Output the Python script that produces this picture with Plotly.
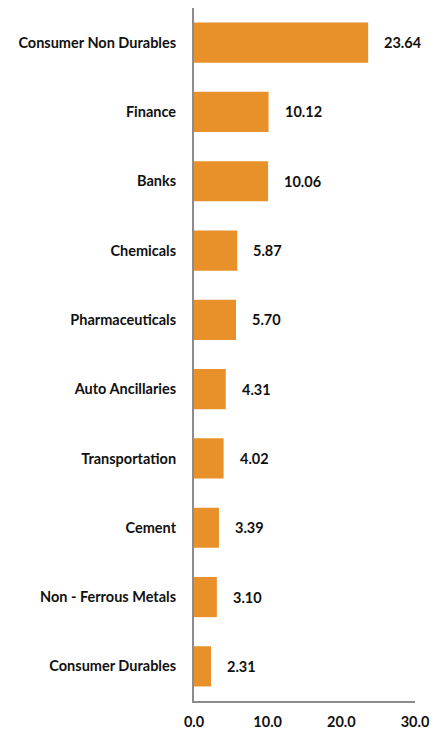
import plotly.graph_objects as go

# Sector allocation (%)
sectors = [
    "Consumer Non Durables", "Finance", "Banks", "Chemicals", "Pharmaceuticals",
    "Auto Ancillaries", "Transportation", "Cement", "Non - Ferrous Metals",
    "Consumer Durables",
]
weights = [23.64, 10.12, 10.06, 5.87, 5.70, 4.31, 4.02, 3.39, 3.10, 2.31]
x_ticks = [0, 10, 20, 30]

BAR_COLOR = "#E8902A"
AXIS_COLOR = "#8C8C8C"
FONT = "Lato"
FONT_SIZE = 14.5

fig = go.Figure(
    go.Bar(
        x=weights,
        y=sectors,
        orientation="h",
        width=0.58,
        marker=dict(color=BAR_COLOR, line=dict(width=0)),
        hoverinfo="skip",
    )
)

# value labels to the right of each bar
for s, w in zip(sectors, weights):
    fig.add_annotation(
        x=w, y=s, text=f"{w:.2f}", showarrow=False,
        xanchor="left", yanchor="middle", xshift=14,
        font=dict(family=FONT, size=FONT_SIZE, color="#111111", weight="bold"),
    )

fig.update_layout(
    width=443, height=731,
    margin=dict(l=194, r=28, t=8, b=30),
    plot_bgcolor="white", paper_bgcolor="white",
    showlegend=False,
)
fig.update_xaxes(
    range=[0, 30], tickvals=x_ticks, tickformat=".1f",
    showgrid=False, zeroline=False, automargin=False,
    showline=True, linecolor=AXIS_COLOR, linewidth=2,
    ticks="", ticklabelstandoff=7,
    tickfont=dict(family=FONT, size=FONT_SIZE, color="#111111", weight="bold"),
)
fig.update_yaxes(
    categoryorder="array", categoryarray=sectors, autorange="reversed",
    showgrid=False, zeroline=False, automargin=False,
    showline=True, linecolor=AXIS_COLOR, linewidth=2,
    ticks="", ticklabelstandoff=13,
    tickfont=dict(family=FONT, size=FONT_SIZE, color="#111111", weight="bold"),
)

fig.write_html("out.html")
